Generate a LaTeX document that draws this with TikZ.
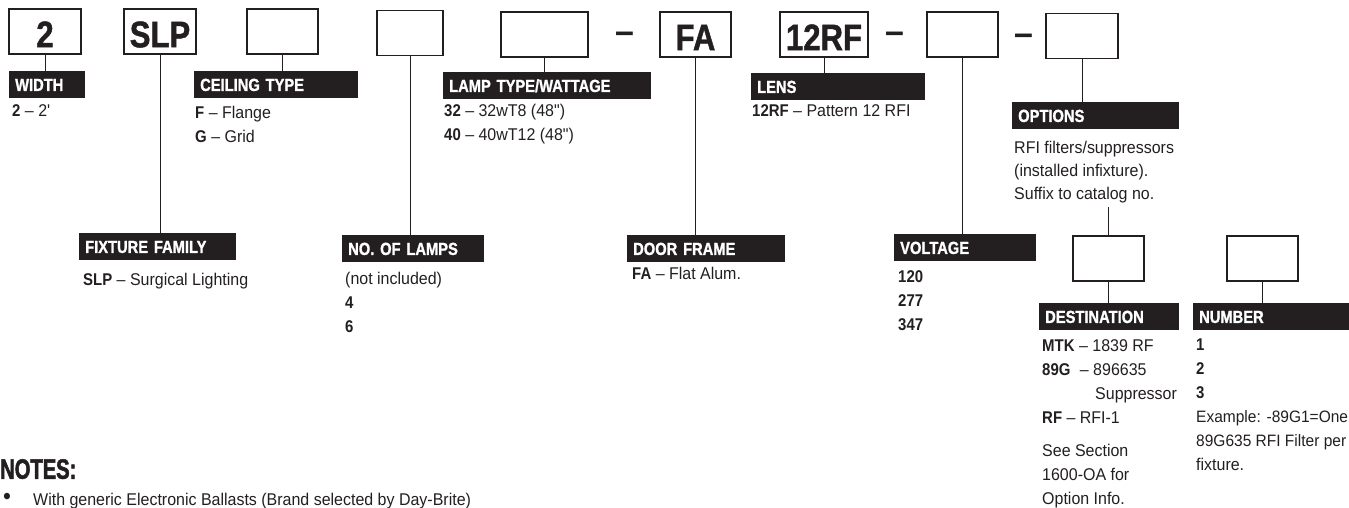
\documentclass[tikz,border=0pt]{standalone}
\usepackage{fontspec}
\setmainfont{Liberation Sans}[FakeStretch=0.94]
\newfontfamily\qfont{Liberation Sans}[FakeStretch=0.94]
\newfontfamily\condfont{Liberation Sans}[FakeStretch=0.88]
\newfontfamily\blackfont{Liberation Sans}[FakeStretch=0.84,FakeBold=1.2]
\newfontfamily\notesfont{Liberation Sans}[FakeStretch=0.72,FakeBold=1.8]
\definecolor{ink}{HTML}{231F20}
\newcommand{\kb}[1]{{\condfont\bfseries #1}}
\newcommand{\sq}{{\qfont\char"0027}}
\newcommand{\dq}{{\qfont\char"0022}}
\begin{document}
\begin{tikzpicture}[
  x=1pt, y=-1pt,
  codebox/.style={draw=ink, line width=1.2pt, minimum height=45pt, inner sep=0pt, text height=31.5pt, text depth=0pt, text=ink, font=\blackfont\bfseries\fontsize{37}{37}\selectfont},
  hdr/.style={fill=ink, text=white, anchor=north west, minimum height=27pt, inner xsep=6pt, inner ysep=0pt, text height=12.5pt, text depth=0pt, text width=#1, align=left, font=\blackfont\bfseries\fontsize{17.5}{17.5}\selectfont},
  desc/.style={anchor=north west, inner sep=0pt, align=left, text=ink, font=\fontsize{17}{24}\selectfont},
  sepdash/.style={anchor=base, inner sep=0pt, text=ink, font=\bfseries\fontsize{36}{36}\selectfont},
  link/.style={draw=ink, line width=0.9pt}
]
\useasboundingbox (0,0) rectangle (1349,508);
% catalog code boxes
\node[codebox, minimum width=72pt] (bw) at (45,31.5) {2};
\node[codebox, minimum width=72pt] (bf) at (160,31.5) {SLP};
\node[codebox, minimum width=71pt] (bc) at (282.5,31.5) {};
\node[codebox, minimum width=66pt] (bn) at (410,33) {};
\node[codebox, minimum width=87pt] (bl) at (544.5,34.5) {};
\node[sepdash] (sep1) at (625,43.5) {–};
\node[codebox, minimum width=71pt] (bd) at (695.5,34.5) {FA};
\node[codebox, minimum width=88pt] (bs) at (824,34.5) {12RF};
\node[sepdash] (sep2) at (895,43.5) {–};
\node[codebox, minimum width=71pt] (bv) at (962.5,34.5) {};
\node[sepdash] (sep3) at (1023.5,45.5) {–};
\node[codebox, minimum width=72pt] (bo) at (1082,36) {};
\node[codebox, minimum width=71pt] (bdest) at (1108.5,258.5) {};
\node[codebox, minimum width=71pt] (bnum) at (1262.5,258.5) {};
% headings
\node[hdr=64pt] (hw) at (9,71) {WIDTH};
\node[hdr=152pt] (hc) at (194,71) {CEILING TYPE};
\node[hdr=196pt] (hl) at (443,72) {LAMP TYPE/WATTAGE};
\node[hdr=162pt] (hs) at (751,73) {LENS};
\node[hdr=155pt] (ho) at (1012,102) {OPTIONS};
\node[hdr=145pt] (hf) at (79,233) {FIXTURE FAMILY};
\node[hdr=130pt] (hn) at (342,235) {NO. OF LAMPS};
\node[hdr=146pt] (hd) at (627,235) {DOOR FRAME};
\node[hdr=130pt] (hv) at (894,234) {VOLTAGE};
\node[hdr=128pt] (hdest) at (1039,303) {DESTINATION};
\node[hdr=144pt] (hnum) at (1193,303) {NUMBER};
% choices
\node[desc] (wtxt) at (12,104) {\kb{2} – 2\sq};
\node[desc] (ctxt) at (195,106) {\kb{F} – Flange\\\kb{G} – Grid};
\node[desc] (ltxt) at (444,104) {\kb{32} – 32wT8 (48\dq)\\\kb{40} – 40wT12 (48\dq)};
\node[desc] (stxt) at (752,104) {\kb{12RF} – Pattern 12 RFI};
\node[desc, font=\fontsize{17}{23}\selectfont] (otxt) at (1014,141) {RFI filters/suppressors\\(installed infixture).\\Suffix to catalog no.};
\node[desc] (ftxt) at (83,273) {\kb{SLP} – Surgical Lighting};
\node[desc] (ntxt) at (345,272) {(not included)\\\kb{4}\\\kb{6}};
\node[desc] (dtxt) at (632,267) {\kb{FA} – Flat Alum.};
\node[desc] (vtxt) at (898,270) {\kb{120}\\\kb{277}\\\kb{347}};
\node[desc] (desttxt) at (1042,339) {\kb{MTK} – 1839 RF\\\kb{89G}\hspace{5pt} – 896635\\\hspace*{53pt}Suppressor\\\kb{RF} – RFI-1};
\node[desc] (desttxt2) at (1042,444) {See Section\\1600-OA for\\Option Info.};
\node[desc] (numtxt) at (1196,339) {\kb{1}\\\kb{2}\\\kb{3}\\{\fontsize{16.5}{24}\selectfont Example: -89G1=One}\\{\fontsize{16.5}{24}\selectfont 89G635 RFI Filter per}\\fixture.};
% notes
\node[anchor=north west, inner sep=0pt, text=ink, font=\notesfont\bfseries\fontsize{28}{28}\selectfont] (notes) at (0,459) {NOTES:};
\node[anchor=base, inner sep=0pt, text=ink, font=\fontsize{24}{24}\selectfont] (bul) at (7,504) {•};
\node[desc] (notetxt) at (33,493) {With generic Electronic Ballasts (Brand selected by Day-Brite)};
% connectors
\draw[link] (bw.south) -- (bw.south |- hw.north);
\draw[link] (bf.south) -- (bf.south |- hf.north);
\draw[link] (bc.south) -- (bc.south |- hc.north);
\draw[link] (bn.south) -- (bn.south |- hn.north);
\draw[link] (bl.south) -- (bl.south |- hl.north);
\draw[link] (bd.south) -- (bd.south |- hd.north);
\draw[link] (bs.south) -- (bs.south |- hs.north);
\draw[link] (bv.south) -- (bv.south |- hv.north);
\draw[link] (bo.south) -- (bo.south |- ho.north);
\draw[link] ([yshift=-4pt]otxt.south -| bdest.north) -- (bdest.north);
\draw[link] (bdest.south) -- (bdest.south |- hdest.north);
\draw[link] (bnum.south) -- (bnum.south |- hnum.north);
\end{tikzpicture}
\end{document}
